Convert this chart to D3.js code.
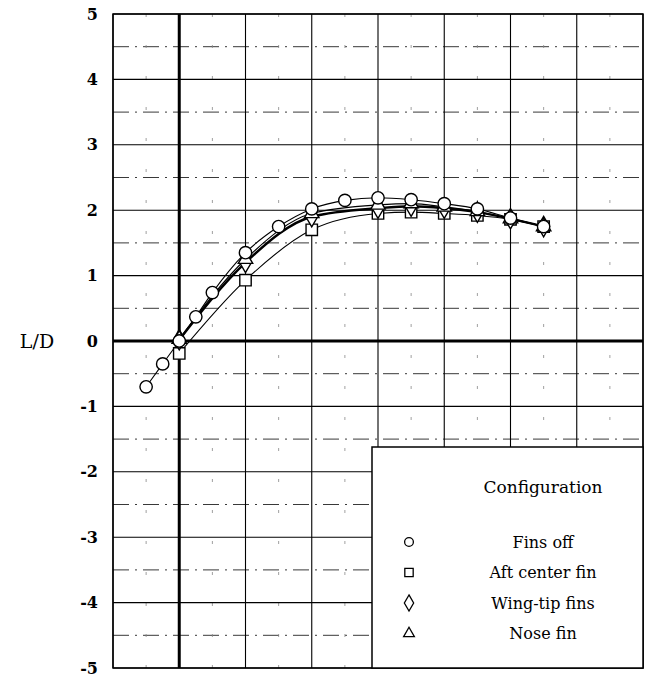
<!DOCTYPE html>
<html>
<head>
<meta charset="utf-8">
<script src="https://cdn.jsdelivr.net/npm/d3@7"></script>
<style>
  html, body { margin: 0; padding: 0; background: #fff; }
  svg { display: block; }
</style>
</head>
<body>
<svg id="chart"></svg>
<script>
// angle of attack (deg), L/D
const alphaFinsOff = [-2, -1, 0, 1, 2, 4, 6, 8, 10, 12, 14, 16, 18, 20, 22];
const ldFinsOff = [-0.70, -0.35, 0.0, 0.37, 0.74, 1.35, 1.75, 2.02, 2.15, 2.19, 2.16, 2.10, 2.02, 1.88, 1.75];

const alphaAft = [0, 4, 8, 12, 14, 16, 18, 20, 22];
const ldAft = [-0.19, 0.93, 1.70, 1.95, 1.97, 1.95, 1.92, 1.86, 1.75];

const alphaWing = [0, 4, 8, 12, 14, 16, 18, 20, 22];
const ldWing = [0.02, 1.20, 1.90, 2.03, 2.06, 2.03, 1.97, 1.87, 1.75];

const alphaNose = [0, 4, 8, 12, 14, 16, 18, 20, 22];
const ldNose = [0.03, 1.25, 1.95, 2.08, 2.10, 2.05, 1.98, 1.87, 1.75];

const yTicks = [5, 4, 3, 2, 1, 0, -1, -2, -3, -4, -5];
const xMajor = [-4, 0, 4, 8, 12, 16, 20, 24, 28];
const xMinor = [-2, 2, 6, 10, 14, 18, 22, 26];
const yMinor = [4.5, 3.5, 2.5, 1.5, 0.5, -0.5, -1.5, -2.5, -3.5, -4.5];

const legendTitle = "Configuration";
const legendNames = ["Fins off", "Aft center fin", "Wing-tip fins", "Nose fin"];

const width = 645;
const height = 677;
const pLeft = 113, pRight = 643, pTop = 14, pBottom = 668;
const wideSerif = "DejaVu Serif, serif";

const svg = d3.select("#chart")
    .attr("width", width)
    .attr("height", height);

const x = d3.scaleLinear().domain([-4, 28]).range([pLeft, pRight]);
const y = d3.scaleLinear().domain([-5, 5]).range([pBottom, pTop]);

// minor grid
svg.append("g").selectAll("line").data(yMinor).join("line")
    .attr("x1", pLeft).attr("x2", pRight)
    .attr("y1", d => y(d)).attr("y2", d => y(d))
    .attr("stroke", "#222").attr("stroke-width", 0.9)
    .attr("stroke-dasharray", "16,6,2,6");

svg.append("g").selectAll("line").data(xMinor).join("line")
    .attr("x1", d => x(d)).attr("x2", d => x(d))
    .attr("y1", pTop).attr("y2", pBottom)
    .attr("stroke", "#888").attr("stroke-width", 0.8)
    .attr("stroke-dasharray", "3,28");

// major grid
svg.append("g").selectAll("line").data(yTicks).join("line")
    .attr("x1", pLeft).attr("x2", pRight)
    .attr("y1", d => y(d)).attr("y2", d => y(d))
    .attr("stroke", "#000")
    .attr("stroke-width", d => d === 0 ? 3 : 1.1);

svg.append("g").selectAll("line").data(xMajor).join("line")
    .attr("x1", d => x(d)).attr("x2", d => x(d))
    .attr("y1", pTop).attr("y2", pBottom)
    .attr("stroke", "#000")
    .attr("stroke-width", d => d === 0 ? 3 : 1.1);

// frame
svg.append("rect")
    .attr("x", pLeft).attr("y", pTop)
    .attr("width", pRight - pLeft).attr("height", pBottom - pTop)
    .attr("fill", "none").attr("stroke", "#000").attr("stroke-width", 1.5);

// y tick labels
const yAxis = svg.append("g")
    .attr("transform", `translate(${pLeft - 12},0)`)
    .call(d3.axisLeft(y).tickValues(yTicks).tickSize(0).tickFormat(d => String(d)));
yAxis.attr("font-family", wideSerif).attr("font-size", 16);
yAxis.select(".domain").remove();
yAxis.selectAll("text")
    .style("font-family", wideSerif)
    .style("font-weight", "bold")
    .attr("fill", "#000");

svg.append("text")
    .attr("x", 37).attr("y", y(0))
    .attr("dy", "0.35em")
    .attr("text-anchor", "middle")
    .style("font-family", wideSerif)
    .attr("font-size", 19)
    .text("L/D");

// curves
const series = [
    {xs: alphaFinsOff, ys: ldFinsOff, sym: d3.symbolCircle, size: 120, w: 1.1},
    {xs: alphaAft, ys: ldAft, sym: d3.symbolSquare, size: 130, w: 1.1},
    {xs: alphaWing, ys: ldWing, sym: d3.symbolDiamond, size: 120, w: 2.4},
    {xs: alphaNose, ys: ldNose, sym: d3.symbolTriangle, size: 90, w: 1.2}
];

const line = d3.line()
    .x(d => x(d[0]))
    .y(d => y(d[1]))
    .curve(d3.curveMonotoneX);

series.forEach(s => {
    const pts = s.xs.map((a, i) => [a, s.ys[i]]);
    svg.append("path")
        .datum(pts)
        .attr("d", line)
        .attr("fill", "none")
        .attr("stroke", "#000")
        .attr("stroke-width", s.w);
});

[1, 2, 3, 0].forEach(k => {
    const s = series[k];
    const pts = s.xs.map((a, i) => [a, s.ys[i]]);
    svg.append("g").selectAll("path").data(pts).join("path")
        .attr("transform", d => `translate(${x(d[0])},${y(d[1])})`)
        .attr("d", d3.symbol().type(s.sym).size(s.size))
        .attr("fill", "#fff")
        .attr("stroke", "#000")
        .attr("stroke-width", 1.4);
});

// legend box
const lgX = 372, lgY = 447;
svg.append("rect")
    .attr("x", lgX).attr("y", lgY)
    .attr("width", pRight - lgX).attr("height", pBottom - lgY)
    .attr("fill", "#fff").attr("stroke", "#000").attr("stroke-width", 1.5);

svg.append("text")
    .attr("x", 543).attr("y", 487)
    .attr("dy", "0.35em")
    .attr("text-anchor", "middle")
    .style("font-family", wideSerif)
    .attr("font-size", 17)
    .text(legendTitle);

const legendSizes = [60, 70, 75, 50];
legendNames.forEach((name, i) => {
    const ly = 542 + i * 30.5;
    svg.append("path")
        .attr("transform", `translate(409,${ly})`)
        .attr("d", d3.symbol().type(series[i].sym).size(legendSizes[i]))
        .attr("fill", "#fff").attr("stroke", "#000").attr("stroke-width", 1.3);
    svg.append("text")
        .attr("x", 543).attr("y", ly)
        .attr("dy", "0.35em")
        .attr("text-anchor", "middle")
        .style("font-family", wideSerif)
        .attr("font-size", 16)
        .text(name);
});
</script>
</body>
</html>
